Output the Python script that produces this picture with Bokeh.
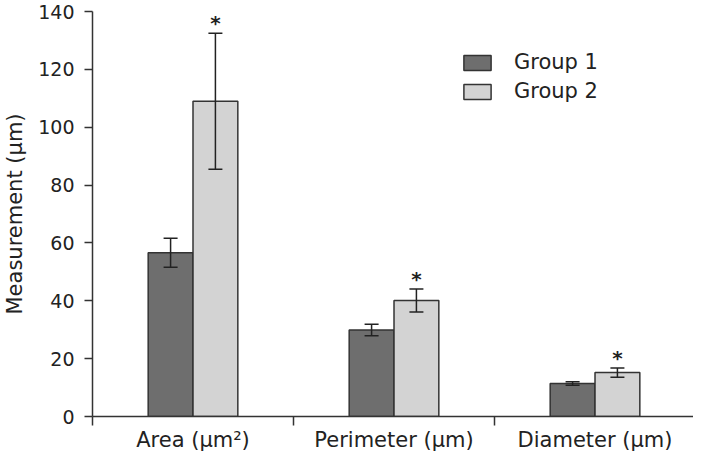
from bokeh.plotting import figure
from bokeh.models import (ColumnDataSource, Range1d, FixedTicker, Whisker, TeeHead,
                          Legend, LegendItem)
from bokeh.core.properties import value
from bokeh.embed import file_html
from bokeh.resources import INLINE

# ---- data ----
categories = ["Area (μm²)", "Perimeter (μm)", "Diameter (μm)"]
group1_mean = [56.6, 29.9, 11.4]
group1_err = [5.0, 2.0, 0.6]
group2_mean = [109.0, 40.1, 15.2]
group2_err = [23.5, 4.0, 1.6]
group2_significant = ["*", "*", "*"]
y_ticks = [0, 20, 40, 60, 80, 100, 120, 140]

FONT = "DejaVu Sans"
TXT = "#222222"
EDGE = "#333333"
DARK = "#6e6e6e"
LIGHT = "#d3d3d3"

bar_w = 0.223
idx = list(range(len(categories)))
centers = [i + 0.5 for i in idx]
x1 = [c - bar_w / 2 for c in centers]
x2 = [c + bar_w / 2 for c in centers]

src1 = ColumnDataSource(dict(
    x=x1, top=group1_mean,
    lower=[m - e for m, e in zip(group1_mean, group1_err)],
    upper=[m + e for m, e in zip(group1_mean, group1_err)]))
src2 = ColumnDataSource(dict(
    x=x2, top=group2_mean,
    lower=[m - e for m, e in zip(group2_mean, group2_err)],
    upper=[m + e for m, e in zip(group2_mean, group2_err)],
    star=group2_significant))

p = figure(frame_width=601, frame_height=405, output_backend="svg",
           toolbar_location=None,
           x_range=Range1d(0, 2.99), y_range=Range1d(0, 140),
           min_border_left=86, min_border_right=0, min_border_top=11,
           min_border_bottom=0)
p.outline_line_color = None
p.xgrid.grid_line_color = None
p.ygrid.grid_line_color = None
p.background_fill_color = "white"
p.border_fill_color = "white"

r1 = p.vbar(x="x", top="top", width=bar_w, bottom=0, source=src1,
            fill_color=DARK, line_color=EDGE, line_width=1.5)
r2 = p.vbar(x="x", top="top", width=bar_w, bottom=0, source=src2,
            fill_color=LIGHT, line_color=EDGE, line_width=1.5)

for s in (src1, src2):
    w = Whisker(base="x", lower="lower", upper="upper", source=s,
                line_color="#222222", line_width=1.5, level="overlay",
                upper_head=TeeHead(size=14, line_color="#222222", line_width=1.5),
                lower_head=TeeHead(size=14, line_color="#222222", line_width=1.5))
    p.add_layout(w)

p.text(x="x", y="upper", text="star", source=src2, text_align="center",
       text_baseline="middle", y_offset=-10, text_font=value(FONT),
       text_font_size="20px", text_font_style="bold", text_color=TXT)

# axes
p.xaxis.ticker = FixedTicker(ticks=centers, minor_ticks=[0, 1, 2, 3])
p.xaxis.major_label_overrides = {c: lab for c, lab in zip(centers, categories)}
p.xaxis.major_tick_line_color = None
p.xaxis.minor_tick_line_color = EDGE
p.xaxis.minor_tick_line_width = 1.5
p.xaxis.minor_tick_in = 0
p.xaxis.minor_tick_out = 9
p.xaxis.major_label_standoff = 2
p.xaxis.major_label_text_font = FONT
p.xaxis.major_label_text_font_size = "21px"
p.xaxis.major_label_text_color = TXT

p.yaxis.ticker = FixedTicker(ticks=y_ticks, minor_ticks=[])
p.yaxis.major_tick_in = 0
p.yaxis.major_tick_out = 8
p.yaxis.major_tick_line_color = EDGE
p.yaxis.major_tick_line_width = 1.5
p.yaxis.major_label_standoff = 10
p.yaxis.major_label_text_font = FONT
p.yaxis.major_label_text_font_size = "19px"
p.yaxis.major_label_text_color = TXT
p.yaxis.axis_label = "Measurement (μm)"
p.yaxis.axis_label_text_font = FONT
p.yaxis.axis_label_text_font_size = "21px"
p.yaxis.axis_label_text_font_style = "normal"
p.yaxis.axis_label_text_color = TXT
p.yaxis.axis_label_standoff = 8

for ax in (p.xaxis, p.yaxis):
    ax.axis_line_color = EDGE
    ax.axis_line_width = 1.5

legend = Legend(items=[LegendItem(label="Group 1", renderers=[r1]),
                       LegendItem(label="Group 2", renderers=[r2])],
                location=(368, 313), orientation="vertical",
                glyph_width=34, glyph_height=19, label_height=19, spacing=5,
                label_standoff=20, padding=0, margin=0,
                border_line_color=None, background_fill_alpha=0,
                label_text_font=FONT, label_text_font_size="21px",
                label_text_color=TXT)
p.add_layout(legend)

open("out.html", "w").write(file_html(p, INLINE))
